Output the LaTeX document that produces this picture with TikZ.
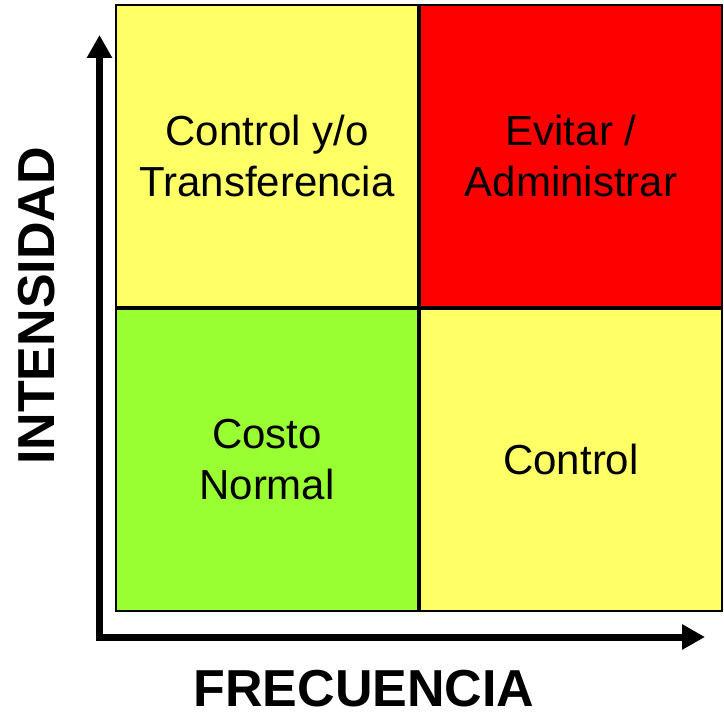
\documentclass[tikz,border=0pt]{standalone}
\usepackage{fontspec}
\setmainfont{Liberation Sans}
\usepackage{xcolor}
\usetikzlibrary{arrows.meta,positioning}
\definecolor{amarillo}{RGB}{255,255,102}
\definecolor{rojo}{RGB}{255,0,0}
\definecolor{verde}{RGB}{153,255,51}
\tikzstyle{cell} = [rectangle, minimum width=302pt, minimum height=301.5pt, text centered, align=center, draw=black, line width=2pt, inner sep=0pt, font=\fontsize{42}{51}\selectfont]
\tikzstyle{axis} = [line width=7pt, line join=miter, {Triangle[length=23pt,width=24pt]}-{Triangle[length=23pt,width=24pt]}]
\tikzstyle{axislabel} = [font=\fontsize{52}{60}\selectfont\bfseries, inner sep=0pt]

\begin{document}
\begin{tikzpicture}[x=1pt, y=-1pt]
        \useasboundingbox (0,0) rectangle (724,714);
        % Cells of the matrix
        \node (control_transf) [cell, fill=amarillo] at (267,156.25) {Control y/o\\Transferencia};
        \node (evitar) [cell, fill=rojo, right=0pt of control_transf] {Evitar /\\Administrar};
        \node (costo) [cell, fill=verde, below=0pt of control_transf] {Costo\\Normal};
        \node (control) [cell, fill=amarillo, right=0pt of costo] {Control};
        
        % Axes
        \coordinate (origin) at (99.5,637);
        \coordinate (y_tip) at (99.5,35);
        \coordinate (x_tip) at (705,637);
        \draw [axis] (y_tip) -- (origin) -- (x_tip);
        
        % Axis labels
        \node (intensidad) [axislabel, rotate=90] at (37,306) {INTENSIDAD};
        \node (frecuencia) [axislabel] at (364,689) {FRECUENCIA};
    \end{tikzpicture}
\end{document}
